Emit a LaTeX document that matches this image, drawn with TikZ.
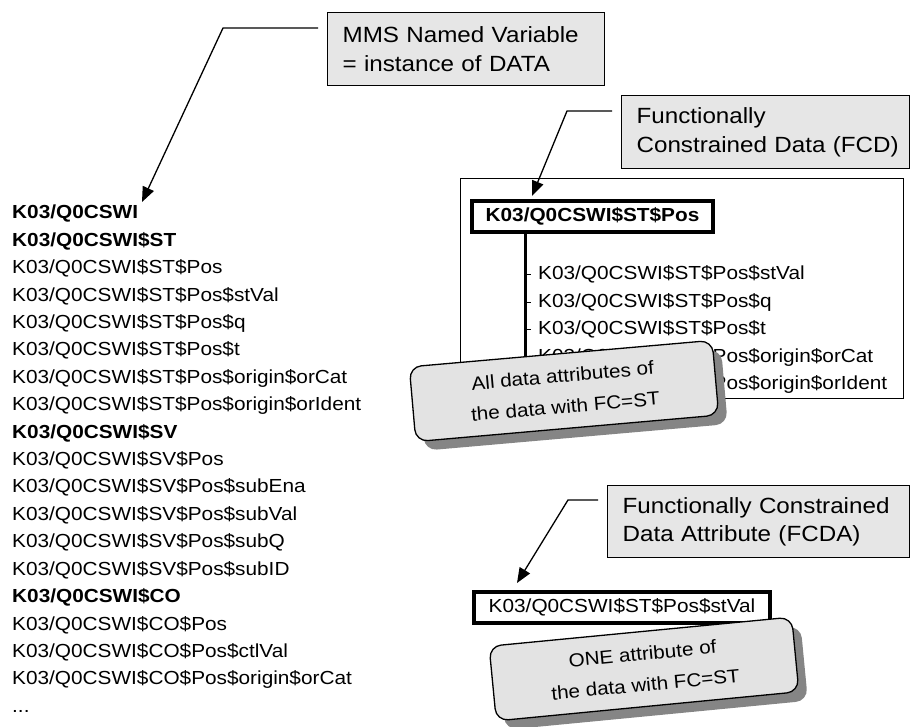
\documentclass[tikz,border=0pt]{standalone}
\usepackage{fontspec}
\setmainfont{Liberation Sans}[FakeStretch=1.1]
\usetikzlibrary{arrows.meta,shadows,calc}
\definecolor{boxgray}{HTML}{E6E6E6}
\definecolor{callgray}{HTML}{E3E3E3}
\definecolor{shadowgray}{HTML}{858585}
\newcommand{\ind}{\hspace*{15pt}}
\begin{document}
\begin{tikzpicture}[x=1pt,y=-1pt,
  listtext/.style={anchor=base west, inner sep=0pt, font=\fontsize{18.9}{22}\selectfont},
  notebox/.style={draw, line width=1.2pt, fill=boxgray, anchor=north west, align=left,
    inner xsep=0pt, inner ysep=0pt, font=\fontsize{22}{28.5}\selectfont},
  keybox/.style={draw, line width=4pt, fill=white, anchor=north west, inner sep=0pt,
    font=\fontsize{18.9}{22}\selectfont},
  callout/.style={draw, line width=1.3pt, fill=callgray, rounded corners=12pt, align=center,
    inner sep=0pt, minimum width=304pt, minimum height=75pt,
    font=\fontsize{18.8}{31}\selectfont,
    drop shadow={shadow xshift=9pt, shadow yshift=-9pt, fill=shadowgray, opacity=1}},
  conn/.style={line width=1.3pt, -{Triangle[length=15pt,width=12pt]}},
  treeline/.style={line width=3pt},
  tick/.style={line width=1.2pt}]
\useasboundingbox (0,0) rectangle (911,727);

% left list
\foreach \txt [count=\i] in {
  {\bfseries K03/Q0CSWI},
  {\bfseries K03/Q0CSWI\$ST},
  K03/Q0CSWI\$ST\$Pos,
  K03/Q0CSWI\$ST\$Pos\$stVal,
  K03/Q0CSWI\$ST\$Pos\$q,
  K03/Q0CSWI\$ST\$Pos\$t,
  K03/Q0CSWI\$ST\$Pos\$origin\$orCat,
  K03/Q0CSWI\$ST\$Pos\$origin\$orIdent,
  {\bfseries K03/Q0CSWI\$SV},
  K03/Q0CSWI\$SV\$Pos,
  K03/Q0CSWI\$SV\$Pos\$subEna,
  K03/Q0CSWI\$SV\$Pos\$subVal,
  K03/Q0CSWI\$SV\$Pos\$subQ,
  K03/Q0CSWI\$SV\$Pos\$subID,
  {\bfseries K03/Q0CSWI\$CO},
  K03/Q0CSWI\$CO\$Pos,
  K03/Q0CSWI\$CO\$Pos\$ctlVal,
  K03/Q0CSWI\$CO\$Pos\$origin\$orCat}
  \node[listtext] (l\i) at (12,{219+27.4*(\i-1)}) {\txt};
\node[listtext] (l19) at (12,{219+27.4*18}) {.\kern0pt.\kern0pt.};

% MMS note
\node[notebox, minimum width=277pt, minimum height=73pt, text width=277pt] (mms) at (327,12)
  {\ind MMS Named Variable\\\ind = instance of DATA};
\coordinate (mmsS) at ($(mms.north west)+(-9,16)$);
\coordinate (mmsB) at (223,28);
\coordinate (mmsT) at (142,202);
\draw[conn] (mmsS) -- (mmsB) -- (mmsT);

% FCD frame
\node[draw, line width=1pt, anchor=north west, inner sep=0pt, minimum width=443pt, minimum height=220pt] (frame) at (460,178) {};
\node[keybox, font=\fontsize{18.9}{22}\selectfont\bfseries, minimum width=241pt, minimum height=31pt] (pos) at (470,199) {K03/Q0CSWI\$ST\$Pos};
\foreach \txt [count=\i] in {
  K03/Q0CSWI\$ST\$Pos\$stVal,
  K03/Q0CSWI\$ST\$Pos\$q,
  K03/Q0CSWI\$ST\$Pos\$t,
  K03/Q0CSWI\$ST\$Pos\$origin\$orCat,
  K03/Q0CSWI\$ST\$Pos\$origin\$orIdent}
  \node[listtext] (t\i) at (538,{280+27.5*(\i-1)}) {\txt};
\coordinate (treetop) at ($(pos.south west)+(55,0)$);
\draw[treeline] (treetop) -- (treetop |- t5.west);
\foreach \i in {1,2,3,4,5}
  \draw[tick] (treetop |- t\i.west) -- ++(6,0);

% FCD note
\node[notebox, minimum width=288pt, minimum height=73pt, text width=288pt] (fcd) at (621,95)
  {\ind Functionally\\\ind Constrained Data (FCD)};
\coordinate (fcdS) at ($(fcd.north west)+(-9,16)$);
\coordinate (fcdB) at (567,111);
\coordinate (fcdT) at (532,196);
\draw[conn] (fcdS) -- (fcdB) -- (fcdT);

% callout 1
\node[callout, rotate=5] (c1) at (564,391) {All data attributes of\\the data with FC=ST};

% FCDA note
\node[notebox, minimum width=302pt, minimum height=72pt, text width=302pt] (fcda) at (607,485)
  {\ind Functionally Constrained\\\ind Data Attribute (FCDA)};
\coordinate (fcdaS) at ($(fcda.north west)+(-9,15)$);
\coordinate (fcdaB) at (568,500);
\coordinate (fcdaT) at (517,583);
\draw[conn] (fcdaS) -- (fcdaB) -- (fcdaT);

\node[keybox, minimum width=296pt, minimum height=31pt] (stval) at (472,590) {K03/Q0CSWI\$ST\$Pos\$stVal};

% callout 2
\node[callout, rotate=5.5] (c2) at (644,669) {ONE attribute of\\the data with FC=ST};
\end{tikzpicture}
\end{document}
